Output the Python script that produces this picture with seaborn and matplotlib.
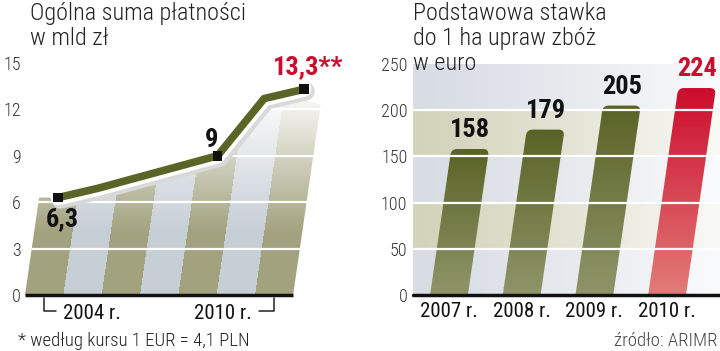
import numpy as np
import pandas as pd
import seaborn as sns
import matplotlib.pyplot as plt
import matplotlib.patheffects as pe
from matplotlib import font_manager
from matplotlib.transforms import Affine2D
from matplotlib.patches import Polygon, FancyBboxPatch
from matplotlib.colors import to_rgb

# Data - left panel (total payments, bn zl)
pay_years = [2004, 2005, 2006, 2007, 2008, 2009, 2010]
pay_values = [6.3, 6.9, 7.6, 8.3, 9.0, 12.7, 13.3]
mark_idx = [0, 4, 6]
mark_text = ['6,3', '9', '13,3**']
pay_ticks = [0, 3, 6, 9, 12, 15]

# Data - right panel (base rate per ha of cereals, euro)
rate_years = ['2007 r.', '2008 r.', '2009 r.', '2010 r.']
rate_values = [158, 179, 205, 224]
rate_ticks = [0, 50, 100, 150, 200, 250]

OLIVE_TOP = '#5a6326'
OLIVE_BOT = '#8f9569'
RED_TOP = '#cc0d2d'
RED_BOT = '#e27c78'

# pick a condensed face if one is around
have = {f.name for f in font_manager.fontManager.ttflist}
NARROW = next((n for n in ['Roboto Condensed', 'Fira Sans Condensed', 'Archivo Narrow',
                           'PT Sans Narrow', 'Barlow Condensed', 'Liberation Sans Narrow',
                           'Roboto'] if n in have), 'DejaVu Sans')

sns.set_theme(style='white')
plt.rcParams['font.family'] = [NARROW, 'DejaVu Sans']

W, H = 720, 351
fig = plt.figure(figsize=(W / 100, H / 100), dpi=100)


def px_axes(x0, x1, ytop, ybot):
    return fig.add_axes([x0 / W, (H - ybot) / H, (x1 - x0) / W, (ybot - ytop) / H])


ax1 = px_axes(25, 345, 63, 295)
ax2 = px_axes(413, 720, 64, 295)

# slant everything around the baseline (display pixels)
BASE = H - 295
skew = Affine2D().translate(0, -BASE).skew_deg(8.25, 0).translate(0, BASE)
T1 = ax1.transData + skew
T2 = ax2.transData + skew


def mix(c, t):
    c = np.array(to_rgb(c))
    return c + (1 - c) * t


# ---------------- left panel ----------------
x = np.arange(len(pay_years))
ax1.set_xlim(-0.5, -0.5 + 320 / 38.3)
ax1.set_ylim(0, 15)

# striped area under the line
rows = np.linspace(0, 15, 300)
fade = np.clip((rows - 4.0) / 9.0, 0, 1) ** 1.0 * 0.95
img = np.zeros((len(rows), len(x) * 20, 3))
for i in range(len(x)):
    col = '#a2a27f' if i % 2 == 0 else '#c6ced6'
    img[:, i * 20:(i + 1) * 20, :] = np.array([mix(col, t) for t in fade])[:, None, :]
im = ax1.imshow(img, extent=(-0.5, len(x) - 0.5, 0, 15), origin='lower', aspect='auto',
                interpolation='nearest', zorder=1)
im.set_transform(T1)
area_x = [-0.5] + list(x) + [len(x) - 0.5]
area_y = [pay_values[0]] + pay_values[:-1] + [pay_values[-1] - 0.6, pay_values[-1] - 1.0]
clip = Polygon(list(zip(area_x, area_y)) + [(len(x) - 0.5, 0), (-0.5, 0)], closed=True,
               facecolor='none', edgecolor='none', transform=T1)
ax1.add_patch(clip)
im.set_clip_path(clip)

ax1.hlines(pay_ticks[1:-1], -0.5, 8, color='white', lw=1.6, zorder=2)
ax1.hlines(0, -0.5, len(x) - 0.5, color='#111111', lw=2.5, zorder=6, clip_on=False)

sns.lineplot(x=x, y=pay_values, ax=ax1, color='#5b6427', lw=5.5, zorder=4,
             solid_capstyle='round')
line = ax1.lines[-1]
line.set_transform(T1)
line.set_clip_on(False)
line.set_path_effects([pe.Stroke(linewidth=13, foreground='#d9d9d9', offset=(1.5, -1.5)),
                       pe.Stroke(linewidth=11, foreground='white'), pe.Normal()])

sns.scatterplot(x=x[mark_idx], y=[pay_values[i] for i in mark_idx], ax=ax1, marker='s',
                s=50, color='#111111', edgecolor='none', zorder=5)
pts = ax1.collections[-1]
pts.set_offset_transform(T1)
pts.set_clip_on(False)

offsets = [(3, -7, 'top'), (-4, 3, 'bottom'), (3, 7, 'bottom')]
for i, txt, (dx, dy, va) in zip(mark_idx, mark_text, offsets):
    ax1.annotate(txt, xy=(x[i], pay_values[i]), xycoords=T1, xytext=(dx, dy),
                 textcoords='offset points', ha='center', va=va, fontsize=19,
                 fontweight='bold', color='#cc0d2d' if i == mark_idx[-1] else '#111111',
                 annotation_clip=False, zorder=7)

# period bracket 2004 - 2010
ax1.plot([0, 0, 0.3], [-0.2, -1.05, -1.05], color='#222222', lw=1.1, clip_on=False)
ax1.plot([5.62, 6, 6], [-1.05, -1.05, -0.2], color='#222222', lw=1.1, clip_on=False)
ax1.text(0.5, -1.2, f'{pay_years[0]} r.', ha='left', va='center', fontsize=15,
         color='#111111', clip_on=False)
ax1.text(5.43, -1.2, f'{pay_years[-1]} r.', ha='right', va='center', fontsize=15,
         color='#111111', clip_on=False)

ax1.set_yticks(pay_ticks)
ax1.set_yticklabels([str(v) for v in pay_ticks], fontsize=13, color='#333333',
                    fontweight='light')
ax1.set_xticks([])
ax1.tick_params(axis='y', length=0, pad=3)
ax1.set_xlabel('')
ax1.set_ylabel('')
sns.despine(ax=ax1, left=True, bottom=True)

# ---------------- right panel ----------------
rate_df = pd.DataFrame({'year': rate_years, 'value': rate_values})
sns.barplot(data=rate_df, x='year', y='value', ax=ax2, width=0.52, color=OLIVE_TOP, zorder=2)
xl = (-0.495, -0.495 + 307 / 72.7)
ax2.set_xlim(*xl)
ax2.set_ylim(0, 250)

# banded background fading to the right
cols = np.linspace(0, 1, 200)
bg = np.zeros((5, len(cols), 3))
for b in range(5):
    c = '#d8dce3' if b % 2 == 0 else '#d3d3bb'
    bg[b] = np.array([mix(c, 0.88 * t ** 1.2) for t in cols])
ax2.imshow(bg, extent=(xl[0], xl[1], 0, 250), origin='lower', aspect='auto',
           interpolation='nearest', zorder=0)

grad = np.linspace(0, 1, 200)
for k, bar in enumerate(ax2.patches):
    bx, bw, bh = bar.get_x(), bar.get_width(), bar.get_height()
    bar.set_visible(False)
    top, bot = (RED_TOP, RED_BOT) if k == len(rate_values) - 1 else (OLIVE_TOP, OLIVE_BOT)
    g = np.array([np.array(to_rgb(bot)) * (1 - t) + np.array(to_rgb(top)) * t for t in grad])
    gi = ax2.imshow(g[:, None, :].repeat(2, axis=1), extent=(bx, bx + bw, 0, bh),
                    origin='lower', aspect='auto', interpolation='bilinear', zorder=2)
    gi.set_transform(T2)
    shape = FancyBboxPatch((bx, -30), bw, bh + 30, boxstyle='round,pad=0,rounding_size=0.08',
                           mutation_aspect=80, facecolor='none', edgecolor='none',
                           transform=T2)
    ax2.add_patch(shape)
    gi.set_clip_path(shape)
    ax2.annotate(str(rate_values[k]), xy=(bx + bw / 2, bh), xycoords=T2, xytext=(0, 5),
                 textcoords='offset points', ha='center', va='bottom', fontsize=19,
                 fontweight='bold', color=RED_TOP if k == len(rate_values) - 1 else '#111111',
                 annotation_clip=False, zorder=7)

ax2.set_xlim(*xl)
ax2.set_ylim(0, 250)
ax2.hlines(rate_ticks[1:-1], xl[0], xl[1], color='white', lw=1.6, zorder=3)
ax2.axhline(0, color='#111111', lw=2.5, zorder=6, clip_on=False)

ax2.set_yticks(rate_ticks)
ax2.set_yticklabels([str(v) for v in rate_ticks], fontsize=13, color='#333333',
                    fontweight='light')
ax2.set_xticks(range(len(rate_years)))
ax2.set_xticklabels(rate_years, fontsize=15, color='#111111')
ax2.tick_params(axis='y', length=0, pad=4)
ax2.tick_params(axis='x', length=0, pad=5)
ax2.set_xlabel('')
ax2.set_ylabel('')
sns.despine(ax=ax2, left=True, bottom=True)

# titles and notes
fig.text(30 / W, 1 - 2 / H, 'Ogólna suma płatności\nw mld zł', ha='left', va='top',
         fontsize=17.5, color='#222222', linespacing=1.12, fontweight='light')
fig.text(413 / W, 1 - 2 / H, 'Podstawowa stawka\ndo 1 ha upraw zbóż\nw euro', ha='left',
         va='top', fontsize=17.5, color='#222222', linespacing=1.12, fontweight='light')
fig.text(18 / W, 1 - 341 / H, '* według kursu 1 EUR = 4,1 PLN', ha='left', va='center',
         fontsize=13.5, color='#222222', fontweight='light')
fig.text(718 / W, 1 - 341 / H, 'źródło: ARIMR', ha='right', va='center',
         fontsize=13.5, color='#444444', fontweight='light')

fig.savefig('out.png', dpi=100)
